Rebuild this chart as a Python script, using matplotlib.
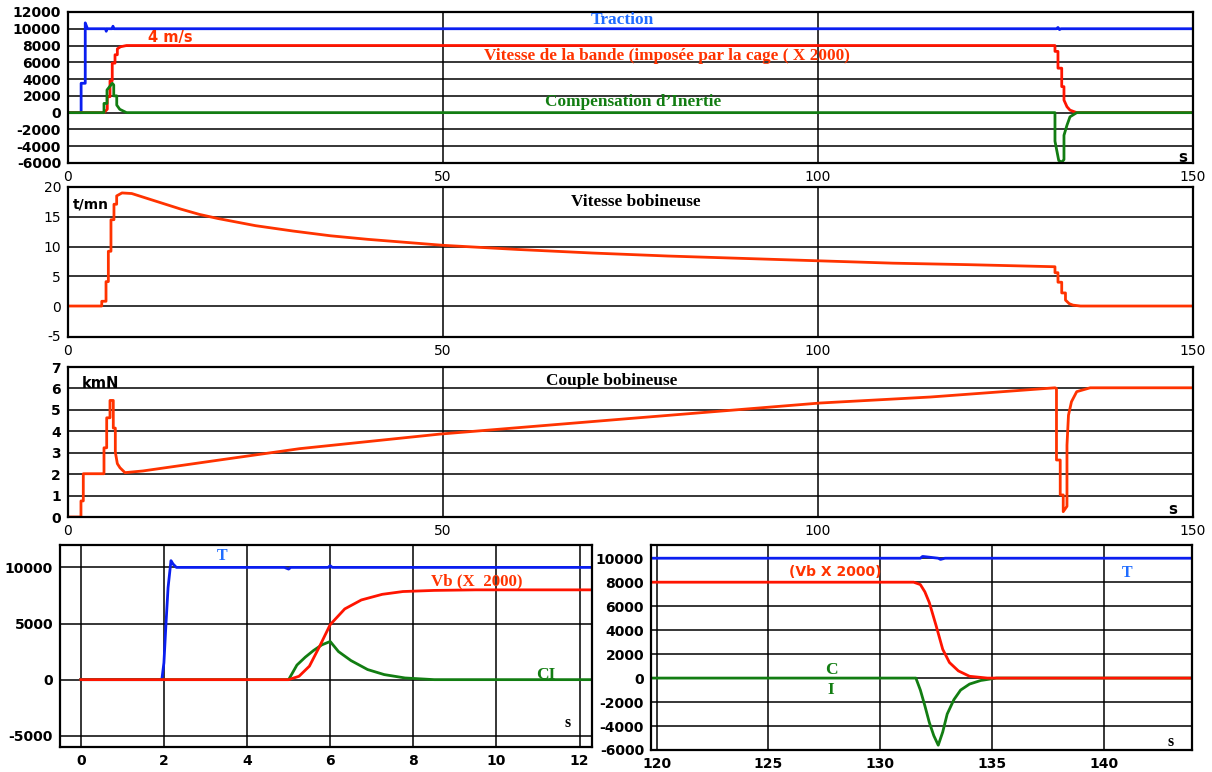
import numpy as np
import matplotlib.pyplot as plt

plt.rcParams['axes.unicode_minus'] = False
plt.rcParams['font.family'] = 'DejaVu Sans'

BLUE = '#0a1ef0'
RED = '#ff1400'
ORANGE = '#ff3300'
GREEN = '#127d12'
TXT_BLUE = '#1f6cff'
SERIF = 'Liberation Serif'

# --- cycle complet 0-150 s : traction, vitesse bande (x2000), compensation d'inertie
t_traction = [0, 1.75, 1.75, 2.3, 2.3, 2.6, 5.0, 5.1, 5.2, 5.9, 6.0, 6.1,
              131.8, 132.0, 132.2, 132.4, 150]
traction = [0, 0, 3500, 3500, 10700, 10000, 10000, 9700, 10000, 10000, 10300, 10000,
            10000, 10150, 9900, 10000, 10000]

t_bande = [0, 4.8, 5.24, 5.24, 5.6, 5.6, 5.9, 5.9, 6.27, 6.27, 6.58, 6.58, 7.0, 7.8,
           131.6, 131.6, 132.0, 132.0, 132.5, 132.5, 132.8, 132.8, 133.2, 133.6, 134.5, 150]
bande = [0, 0, 400, 1900, 1900, 3800, 3800, 5900, 5900, 6900, 6900, 7600, 7850, 8000,
         8000, 7300, 7300, 5300, 5300, 3100, 3100, 1500, 700, 300, 0, 0]

t_ci = [0, 4.8, 4.8, 5.2, 5.2, 5.9, 6.1, 6.1, 6.5, 6.5, 6.9, 7.8,
        131.6, 131.6, 132.1, 132.5, 132.8, 132.8, 133.2, 133.6, 134.5, 150]
ci = [0, 0, 1100, 1100, 2700, 3500, 3300, 2000, 2000, 900, 400, 0,
      0, -3400, -5700, -5900, -5600, -2700, -1500, -500, 0, 0]

# vitesse bobineuse (t/mn)
t_vbob = [0, 4.5, 4.5, 5.07, 5.07, 5.38, 5.38, 5.73, 5.73, 6.13, 6.13, 6.49, 6.49, 7.2, 8.5, 10,
          12.5, 15, 17.5, 20, 25, 30, 35, 40, 45, 50, 60, 70, 80, 90, 100, 110, 120, 131.6,
          131.6, 132.0, 132.0, 132.5, 132.5, 133.0, 133.0, 133.5, 134.0, 135, 150]
vbob = [0, 0, 0.8, 0.8, 4.1, 4.1, 9.2, 9.2, 14.5, 14.5, 17.1, 17.1, 18.5, 19.0, 18.9, 18.3,
        17.3, 16.3, 15.4, 14.7, 13.5, 12.6, 11.8, 11.2, 10.7, 10.2, 9.5, 8.9, 8.4, 8.0, 7.6, 7.2, 6.95, 6.6,
        5.6, 5.6, 4.0, 4.0, 2.2, 2.2, 1.0, 0.4, 0.15, 0, 0]

# couple bobineuse (kmN)
t_couple = [0, 1.73, 1.73, 2.04, 2.04, 4.8, 4.8, 5.16, 5.16, 5.6, 5.6, 6.04, 6.04, 6.31, 6.31,
            6.58, 6.93, 7.6, 10, 20, 30.9, 49.6, 75, 100.3, 115, 131.6,
            131.8, 131.8, 132.3, 132.3, 132.7, 132.7, 133.2, 133.2, 133.4, 133.8, 134.5, 136.3, 150]
couple = [0, 0, 0.75, 0.75, 2.02, 2.02, 3.23, 3.23, 4.63, 4.63, 5.44, 5.44, 4.15, 4.15, 3.03,
          2.49, 2.3, 2.07, 2.15, 2.65, 3.19, 3.87, 4.6, 5.32, 5.6, 6.03,
          6.0, 2.66, 2.66, 1.03, 1.03, 0.25, 0.5, 3.35, 4.75, 5.38, 5.85, 6.03, 6.03]

# --- detail du demarrage (0-12 s)
t_dem_T = [0, 1.95, 2.0, 2.05, 2.1, 2.17, 2.22, 2.3, 2.5, 4.9, 5.0, 5.05, 5.95, 6.0, 6.05, 12.3]
dem_T = [0, 0, 1500, 5000, 8200, 10600, 10300, 10000, 10000, 10000, 9850, 10000, 10000, 10150, 10000, 10000]

t_dem_vb = [0, 5.0, 5.25, 5.5, 5.75, 6.0, 6.35, 6.75, 7.25, 7.75, 8.5, 9.5, 12.3]
dem_vb = [0, 0, 300, 1200, 3000, 4900, 6300, 7100, 7600, 7850, 7950, 8000, 8000]

t_dem_ci = [0, 5.0, 5.2, 5.4, 5.6, 5.8, 6.0, 6.2, 6.5, 6.9, 7.3, 7.8, 8.5, 12.3]
dem_ci = [0, 0, 1300, 2000, 2600, 3100, 3400, 2500, 1700, 900, 450, 150, 0, 0]

# --- detail de l'arret (120-144 s)
t_arr_T = [119.7, 131.8, 131.9, 132.6, 132.7, 132.9, 144]
arr_T = [10000, 10000, 10150, 10000, 9900, 10000, 10000]

t_arr_vb = [119.7, 131.5, 131.8, 132.0, 132.2, 132.5, 132.8, 133.1, 133.5, 134.0, 134.8, 144]
arr_vb = [8000, 8000, 7800, 7200, 6300, 4400, 2400, 1300, 600, 150, 0, 0]

t_arr_ci = [119.7, 131.6, 131.8, 132.0, 132.2, 132.4, 132.6, 132.8, 133.0, 133.3, 133.6, 134.0, 134.5, 135.2, 144]
arr_ci = [0, 0, -1000, -2300, -3700, -4800, -5600, -4500, -3000, -1800, -1000, -500, -200, 0, 0]


def style(ax, xlim, ylim, xticks, yticks, ybold=True, xbold=False):
    ax.set_xlim(xlim)
    ax.set_ylim(ylim)
    ax.set_xticks(xticks)
    ax.set_yticks(yticks)
    ax.grid(True, color='black', linewidth=1.1)
    ax.tick_params(length=0, labelsize=10, pad=5)
    for lab in ax.get_yticklabels():
        lab.set_fontweight('bold' if ybold else 'normal')
    for lab in ax.get_xticklabels():
        lab.set_fontweight('bold' if xbold else 'normal')
    for sp in ax.spines.values():
        sp.set_linewidth(1.6)


fig = plt.figure(figsize=(12.12, 7.72), dpi=100)

# panneau 1 : traction / vitesse bande / compensation
ax1 = fig.add_axes([0.0561, 0.7889, 0.9282, 0.1956])
ax1.plot(t_traction, traction, color=BLUE, lw=2)
ax1.plot(t_bande, bande, color=RED, lw=2)
ax1.plot(t_ci, ci, color=GREEN, lw=2)
style(ax1, (0, 150), (-6000, 12000), [0, 50, 100, 150], np.arange(-6000, 12001, 2000))
ax1.text(73.9, 11050, 'Traction', color=TXT_BLUE, family=SERIF, weight='bold',
         fontsize=12.5, ha='center', va='center')
ax1.text(13.6, 8900, '4 m/s', color=ORANGE, weight='bold', fontsize=10.5, ha='center', va='center')
ax1.text(79.9, 6750, 'Vitesse de la bande (imposée par la cage ( X 2000)', color=ORANGE,
         family=SERIF, weight='bold', fontsize=12.4, ha='center', va='center')
ax1.text(75.3, 1270, 'Compensation d’Inertie', color=GREEN, family=SERIF, weight='bold',
         fontsize=12.4, ha='center', va='center')
ax1.text(148.7, -5300, 's', weight='bold', fontsize=11, ha='center', va='center')

# panneau 2 : vitesse bobineuse
ax2 = fig.add_axes([0.0561, 0.5635, 0.9282, 0.1943])
ax2.plot(t_vbob, vbob, color=ORANGE, lw=2)
style(ax2, (0, 150), (-5.2, 20), [0, 50, 100, 150], [-5, 0, 5, 10, 15, 20], ybold=False)
ax2.get_ygridlines()[0].set_visible(False)
ax2.text(0.7, 17.0, 't/mn', weight='bold', fontsize=10, ha='left', va='center')
ax2.text(75.7, 17.5, 'Vitesse bobineuse', family=SERIF, weight='bold', fontsize=12.4,
         ha='center', va='center')

# panneau 3 : couple bobineuse
ax3 = fig.add_axes([0.0561, 0.3303, 0.9282, 0.1943])
ax3.plot(t_couple, couple, color=ORANGE, lw=2)
style(ax3, (0, 150), (0, 7), [0, 50, 100, 150], np.arange(0, 8, 1))
ax3.text(1.9, 6.25, 'kmN', weight='bold', fontsize=10.5, ha='left', va='center')
ax3.text(72.5, 6.35, 'Couple bobineuse', family=SERIF, weight='bold', fontsize=12.4,
         ha='center', va='center')
ax3.text(147.3, 0.33, 's', weight='bold', fontsize=11, ha='center', va='center')

# detail demarrage
ax4 = fig.add_axes([0.0495, 0.0324, 0.439, 0.2617])
ax4.plot(t_dem_T, dem_T, color=BLUE, lw=2)
ax4.plot(t_dem_ci, dem_ci, color=GREEN, lw=2)
ax4.plot(t_dem_vb, dem_vb, color=RED, lw=2)
style(ax4, (-0.5, 12.3), (-6000, 12000), np.arange(0, 13, 2), [-5000, 0, 5000, 10000], xbold=True)
ax4.text(3.4, 11020, 'T', color=TXT_BLUE, family=SERIF, weight='bold', fontsize=11.5,
         ha='center', va='center')
ax4.text(9.53, 8790, 'Vb (X  2000)', color=ORANGE, family=SERIF, weight='bold', fontsize=12.2,
         ha='center', va='center')
ax4.text(11.19, 415, 'CI', color=GREEN, family=SERIF, weight='bold', fontsize=12.5,
         ha='center', va='center')
ax4.text(11.7, -3860, 's', family=SERIF, weight='bold', fontsize=11.5, ha='center', va='center')

# detail arret
ax5 = fig.add_axes([0.5371, 0.0285, 0.4464, 0.2655])
ax5.plot(t_arr_T, arr_T, color=BLUE, lw=2)
ax5.plot(t_arr_ci, arr_ci, color=GREEN, lw=2)
ax5.plot(t_arr_vb, arr_vb, color=RED, lw=2)
style(ax5, (119.75, 143.95), (-6000, 11100), np.arange(120, 141, 5),
      np.arange(-6000, 10001, 2000), xbold=True)
ax5.text(127.98, 8860, '(Vb X 2000)', color=ORANGE, weight='bold', fontsize=10,
         ha='center', va='center')
ax5.text(141.05, 8800, 'T', color=TXT_BLUE, family=SERIF, weight='bold', fontsize=11.5,
         ha='center', va='center')
ax5.text(127.8, 660, 'C', color=GREEN, family=SERIF, weight='bold', fontsize=12.5,
         ha='center', va='center')
ax5.text(127.8, -1000, 'I', color=GREEN, family=SERIF, weight='bold', fontsize=12.5,
         ha='center', va='center')
ax5.text(143.0, -5370, 's', family=SERIF, weight='bold', fontsize=11.5, ha='center', va='center')

fig.savefig('out.png', dpi=100)
